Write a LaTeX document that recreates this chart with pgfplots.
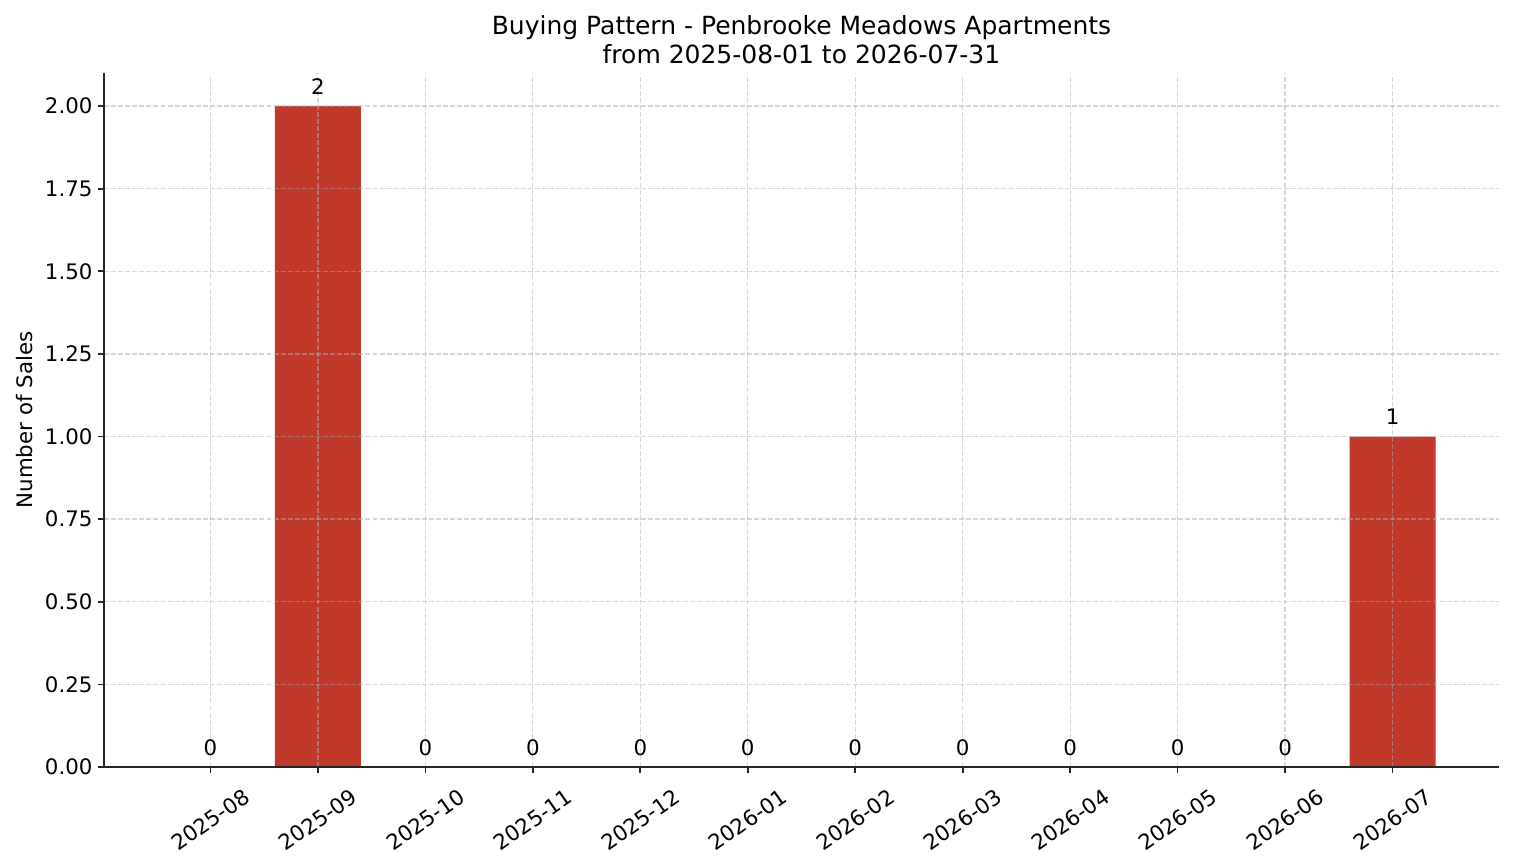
\documentclass[border=0pt]{standalone}
\usepackage{fontspec}
\setmainfont{DejaVu Sans}
\usepackage{pgfplots}
\pgfplotsset{compat=1.18}
\definecolor{barred}{HTML}{C0392B}
\definecolor{gridgray}{HTML}{B0B0B0}

\begin{document}
\begin{tikzpicture}
\useasboundingbox (-62.4pt,-57.6pt) rectangle (846pt,460.2pt);
\begin{axis}[
	width=837pt, height=416.4pt, scale only axis,
	xmin=-0.99, xmax=11.99,
	ymin=0, ymax=2.1,
	axis x line*=bottom, axis y line*=left,
	axis line style={-, black!85, line width=1pt},
	tick align=outside,
	major tick length=3.4pt,
	tick style={black!85, line width=1pt},
	axis on top, clip=false,
	grid=major,
	major grid style={gridgray, draw opacity=0.5, line width=0.8pt, dash pattern=on 2.96pt off 1.28pt},
	xtick={0,...,11},
	xticklabels={2025-08,2025-09,2025-10,2025-11,2025-12,2026-01,2026-02,2026-03,2026-04,2026-05,2026-06,2026-07},
	xticklabel style={yshift=-28.2pt, rotate=35, anchor=center, font=\fontsize{12.8}{15}\selectfont},
	ytick={0,0.25,...,2},
	yticklabel style={/pgf/number format/fixed, /pgf/number format/fixed zerofill, /pgf/number format/precision=2, font=\fontsize{12.8}{15}\selectfont},
	/pgf/number format/assume math mode=true,
	ylabel={Number of Sales},
	ylabel style={at={(axis description cs:-0.0516,0.5)}, anchor=base, font=\fontsize{12.8}{15}\selectfont},
	title={Buying Pattern - Penbrooke Meadows Apartments\\from 2025-08-01 to 2026-07-31},
	title style={at={(axis description cs:0.5,1)}, anchor=south, inner sep=0pt, yshift=-1pt, align=center, font=\fontsize{15}{17.4}\selectfont},
	ybar, bar width=0.8, bar shift=0pt,
	point meta=y,
	nodes near coords={\pgfmathprintnumber[fixed,precision=0]{\pgfplotspointmeta}},
	nodes near coords style={anchor=base, yshift=7pt, text=black, font=\fontsize{12.8}{15}\selectfont},
]
\addplot[draw=none, fill=barred] coordinates {
	(0,0) (1,2) (2,0) (3,0) (4,0) (5,0)
	(6,0) (7,0) (8,0) (9,0) (10,0) (11,1)
};
\end{axis}
\end{tikzpicture}
\end{document}
